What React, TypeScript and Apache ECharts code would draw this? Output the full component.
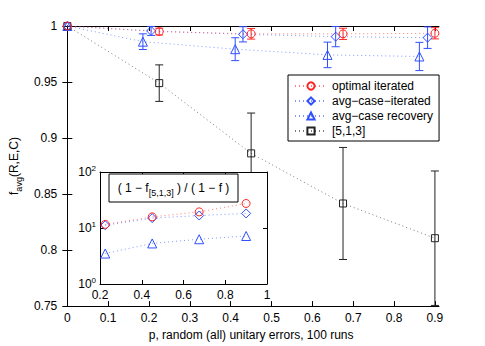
import React, { useEffect, useRef } from "react";
import * as echarts from "echarts";

// Main plot data
const pOpt = [0, 0.225, 0.45, 0.675, 0.9];
const fOpt = [1, 0.995, 0.993, 0.993, 0.9935];
const eOpt = [0, 0.003, 0.0047, 0.005, 0.005];

const pAvgIt = [0, 0.205, 0.43, 0.657, 0.882];
const fAvgIt = [1, 0.9956, 0.9926, 0.9905, 0.9896];
const eAvgIt = [0, 0.004, 0.0068, 0.009, 0.0096];

const pAvgRec = [0, 0.185, 0.411, 0.637, 0.862];
const fAvgRec = [1, 0.986, 0.9793, 0.9742, 0.9728];
const eAvgRec = [0, 0.007, 0.0102, 0.0114, 0.0126];

const p513 = [0, 0.225, 0.45, 0.675, 0.9];
const f513 = [1, 0.949, 0.8863, 0.8416, 0.8106];
const e513 = [0, 0.0163, 0.036, 0.05, 0.06];

const xTicks = [0, 0.1, 0.2, 0.3, 0.4, 0.5, 0.6, 0.7, 0.8, 0.9];

// Inset data: (1 - f_[5,1,3]) / (1 - f)
const pInset = [0.225, 0.45, 0.675, 0.9];
const rOpt = [11.6, 15.8, 19.4, 27.4];
const rAvgIt = [11.2, 15.0, 16.7, 18.2];
const rAvgRec = [3.5, 5.3, 6.3, 7.2];

const names = ["optimal iterated", "avg\u2212case\u2212iterated", "avg\u2212case recovery", "[5,1,3]"];

const RED = "#ff2626";
const BLUE = "#3050ff";
const BLACK = "#222";
const FONT = "Liberation Sans";

const INSET = { left: 100, top: 172, width: 167, height: 112 };

function pairs(xs: number[], ys: number[]) {
  return xs.map((x, i) => [x, ys[i]]);
}
function errData(xs: number[], ys: number[], es: number[]) {
  return xs
    .map((x, i) => [x, ys[i] - es[i], ys[i] + es[i]])
    .filter((_, i) => es[i] > 0);
}

function errSeries(data: number[][], color: string) {
  return {
    type: "custom",
    xAxisIndex: 0,
    yAxisIndex: 0,
    clip: false,
    z: 2,
    silent: true,
    data,
    renderItem: (params: any, api: any) => {
      const x = api.value(0);
      const lo = api.coord([x, api.value(1)]);
      const hi = api.coord([x, api.value(2)]);
      const w = 4;
      const style = { stroke: color, lineWidth: 1 };
      return {
        type: "group",
        children: [
          { type: "line", shape: { x1: lo[0], y1: lo[1], x2: hi[0], y2: hi[1] }, style },
          { type: "line", shape: { x1: lo[0] - w, y1: lo[1], x2: lo[0] + w, y2: lo[1] }, style },
          { type: "line", shape: { x1: hi[0] - w, y1: hi[1], x2: hi[0] + w, y2: hi[1] }, style },
        ],
      };
    },
  };
}

function lineSeries(name: string, data: number[][], color: string, symbol: string, size: number, xi: number, yi: number, z: number, showName = true) {
  return {
    type: "line",
    name: showName ? name : undefined,
    xAxisIndex: xi,
    yAxisIndex: yi,
    data,
    symbol,
    symbolSize: size,
    showAllSymbol: true,
    z,
    silent: true,
    lineStyle: { color, width: 1, type: [1, 3], opacity: 0.6 },
    itemStyle: { color: "rgba(0,0,0,0)", borderColor: color, borderWidth: 1 },
    clip: false,
  };
}

export default function App() {
  const ref = useRef<HTMLDivElement>(null);
  useEffect(() => {
    if (!ref.current) return;
    const chart = echarts.init(ref.current, null, { renderer: "svg" });
    const axisCommon = {
      axisLine: { show: true, lineStyle: { color: "#000", width: 1 } },
      splitLine: { show: false },
    };
    const option: any = {
      animation: false,
      textStyle: { fontFamily: FONT, color: "#000" },
      grid: [
        { left: 63, top: 26, width: 376, height: 281, containLabel: false },
        { ...INSET, show: false, z: 5 },
      ],
      xAxis: [
        {
          ...axisCommon, type: "value", gridIndex: 0, position: "bottom",
          min: -0.01, max: 0.91,
          axisTick: { show: true, inside: true, length: 5, customValues: xTicks, lineStyle: { color: "#000" } },
          axisLabel: { customValues: xTicks, fontSize: 12, color: "#000", margin: 6, fontFamily: FONT },
          name: "p, random (all) unitary errors, 100 runs",
          nameLocation: "middle", nameGap: 19,
          nameTextStyle: { fontSize: 12, color: "#000", fontFamily: FONT },
        },
        {
          ...axisCommon, type: "value", gridIndex: 0, position: "top",
          min: -0.01, max: 0.91,
          axisTick: { show: true, inside: true, length: 5, customValues: xTicks, lineStyle: { color: "#000" } },
          axisLabel: { show: false, customValues: xTicks },
        },
        {
          ...axisCommon, type: "value", gridIndex: 1, position: "bottom", z: 6,
          min: 0.2, max: 1, interval: 0.2,
          axisTick: { show: true, inside: true, length: 4, lineStyle: { color: "#000" } },
          axisLabel: { fontSize: 12, color: "#000", margin: 5, fontFamily: FONT },
        },
        {
          ...axisCommon, type: "value", gridIndex: 1, position: "top", z: 6,
          min: 0.2, max: 1, interval: 0.2,
          axisTick: { show: true, inside: true, length: 4, lineStyle: { color: "#000" } },
          axisLabel: { show: false },
        },
      ],
      yAxis: [
        {
          ...axisCommon, type: "value", gridIndex: 0, position: "left",
          min: 0.75, max: 1, interval: 0.05,
          axisTick: { show: true, inside: true, length: 5, lineStyle: { color: "#000" } },
          axisLabel: { fontSize: 12, color: "#000", margin: 6, fontFamily: FONT },
          name: "f{sub|avg}(R,E,C)",
          nameLocation: "middle", nameGap: 36, nameRotate: 90,
          nameTextStyle: {
            fontSize: 12, color: "#000", fontFamily: FONT,
            rich: { sub: { fontSize: 9, fontFamily: FONT, color: "#000", padding: [9, 0, 0, 0] } },
          },
        },
        {
          ...axisCommon, type: "value", gridIndex: 0, position: "right",
          min: 0.75, max: 1, interval: 0.05,
          axisTick: { show: true, inside: true, length: 5, lineStyle: { color: "#000" } },
          axisLabel: { show: false },
        },
        {
          ...axisCommon, type: "log", logBase: 10, gridIndex: 1, position: "left", z: 6,
          min: 1, max: 100,
          axisTick: { show: true, inside: true, length: 4, lineStyle: { color: "#000" } },
          axisLabel: {
            margin: 4, fontFamily: FONT, color: "#000",
            formatter: (v: number) => `{b|10}{s|${Math.round(Math.log10(v))}}`,
            rich: {
              b: { fontSize: 12, fontFamily: FONT, color: "#000" },
              s: { fontSize: 8, fontFamily: FONT, color: "#000", padding: [0, 0, 8, 0] },
            },
          },
        },
        {
          ...axisCommon, type: "log", logBase: 10, gridIndex: 1, position: "right", z: 6,
          min: 1, max: 100,
          axisTick: { show: true, inside: true, length: 4, lineStyle: { color: "#000" } },
          axisLabel: { show: false },
        },
      ],
      legend: {
        orient: "vertical",
        left: 288, top: 75,
        data: names,
        itemWidth: 32, itemHeight: 9, itemGap: 3,
        padding: [5, 6, 4, 6],
        borderColor: "#000", borderWidth: 1, backgroundColor: "#fff",
        textStyle: { fontSize: 12, color: "#000", fontFamily: FONT },
        selectedMode: false,
      },
      graphic: [
        {
          type: "rect", z: 4, silent: true,
          shape: { x: INSET.left, y: INSET.top, width: INSET.width, height: INSET.height },
          style: { fill: "#fff", stroke: "none" },
        },
        { type: "rect", z: 50, shape: { x: 109, y: 174, width: 129, height: 28 }, style: { fill: "#fff", stroke: "#000", lineWidth: 1 } },
        {
          type: "text", z: 51, x: 173.5, y: 188,
          style: {
            text: "( 1 \u2212 f{sub|[5,1,3]} ) / ( 1 \u2212 f )",
            fontSize: 12, fontFamily: FONT, fill: "#000",
            align: "center", verticalAlign: "middle",
            rich: { sub: { fontSize: 9, fontFamily: FONT, fill: "#000", padding: [10, 0, 0, 0] } },
          },
        },
      ],
      series: [
        lineSeries(names[3], pairs(p513, f513), BLACK, "rect", 7, 0, 0, 2),
        lineSeries(names[2], pairs(pAvgRec, fAvgRec), BLUE, "triangle", 9, 0, 0, 2),
        lineSeries(names[1], pairs(pAvgIt, fAvgIt), BLUE, "diamond", 9, 0, 0, 2),
        lineSeries(names[0], pairs(pOpt, fOpt), RED, "circle", 8, 0, 0, 2),
        errSeries(errData(p513, f513, e513), BLACK),
        errSeries(errData(pAvgRec, fAvgRec, eAvgRec), BLUE),
        errSeries(errData(pAvgIt, fAvgIt, eAvgIt), BLUE),
        errSeries(errData(pOpt, fOpt, eOpt), RED),
        lineSeries(names[2], pairs(pInset, rAvgRec), BLUE, "triangle", 9, 2, 2, 8, false),
        lineSeries(names[1], pairs(pInset, rAvgIt), BLUE, "diamond", 9, 2, 2, 8, false),
        lineSeries(names[0], pairs(pInset, rOpt), RED, "circle", 8, 2, 2, 8, false),
      ],
    };
    chart.setOption(option);
    return () => chart.dispose();
  }, []);
  return <div ref={ref} style={{ width: 485, height: 346, position: "absolute", left: 0, top: 0 }} />;
}
